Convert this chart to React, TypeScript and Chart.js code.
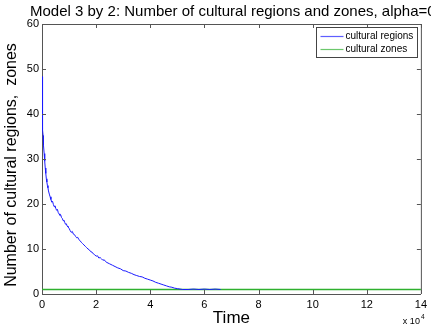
import React, { useEffect, useRef } from "react";
import { Chart, registerables } from "chart.js";

Chart.register(...registerables);

const TITLE = "Model 3 by 2: Number of cultural regions and zones, alpha=0";
const X_LABEL = "Time";
const Y_LABEL = "Number of cultural regions,  zones";
const X_EXPONENT_BASE = "x 10";
const X_EXPONENT = "4";
const SERIES_NAMES = ["cultural regions", "cultural zones"];
const SERIES_COLORS = ["#1a1aff", "#2eb02e"];

const X_MIN = 0;
const X_MAX = 140000;
const X_STEP = 20000;
const Y_MIN = 0;
const Y_MAX = 60;
const Y_STEP = 10;

const REGION_TIMES = [
  0, 100, 200, 300, 400, 500, 600, 800, 1000, 1200, 1400, 1600, 1800, 2000, 2200, 2400,
  2700, 3000, 3300, 3600, 3900, 4200, 4500, 4800, 5100, 5400, 5700, 6000, 6300, 6600,
  6900, 7200, 7500, 7800, 8100, 8400, 8700, 9000, 9300, 9600, 10000, 10400, 10800, 11200,
  11600, 12000, 12400, 12800, 13200, 13600, 14000, 14500, 15000, 15500, 16000, 16500,
  17000, 17500, 18000, 18500, 19000, 19500, 20000, 20500, 21000, 21500, 22000, 22500,
  23000, 23500, 24000, 25000, 26000, 27000, 28000, 29000, 30000, 31000, 32000, 33000,
  34000, 35000, 36000, 37000, 38000, 39000, 40000, 41000, 42000, 43000, 44000, 45000,
  46000, 47000, 48000, 49000, 50000, 51000, 52000, 54000, 56000, 58000, 60000, 62000,
  64000, 66000,
];
const REGION_COUNTS = [
  48.3, 44, 40, 36.5, 35.2, 34, 33, 31.2, 29.5, 28, 26.8, 25.6, 24.9, 24.1, 23.6, 22.9,
  22.2, 21.6, 21.0, 20.4, 20.6, 19.9, 19.4, 19.6, 19.0, 18.6, 18.8, 18.1, 17.8, 17.5,
  17.6, 17.0, 16.8, 16.3, 16.4, 15.9, 15.5, 15.6, 15.1, 14.9, 14.6, 14.1, 13.7, 13.9,
  13.3, 13.2, 12.8, 12.5, 12.6, 12.1, 11.9, 11.5, 11.2, 10.9, 10.6, 10.3,
  10.0, 9.8, 9.4, 9.3, 8.9, 8.7, 8.4, 8.5, 8.0, 8.1, 7.8, 7.5,
  7.6, 7.2, 7.0, 6.7, 6.4, 6.1, 5.8, 5.6, 5.2, 5.1, 4.8, 4.6,
  4.3, 4.1, 3.9, 3.8, 3.5, 3.3, 3.1, 2.9, 2.6, 2.4, 2.2, 2.0,
  1.8, 1.6, 1.5, 1.3, 1.2, 1.1, 1.0, 1.0, 1.1, 1.0, 1.1, 1.0,
  1.1, 1.0,
];
const ZONE_TIMES = [0, 140000];
const ZONE_COUNTS = [1, 1];

const FONT = "Arial, 'Liberation Sans', Helvetica, sans-serif";
const AXIS_COLOR = "#555555";

const decorPlugin = {
  id: "matlabDecor",
  afterDraw(chart: any) {
    const { ctx, chartArea } = chart;
    const { left, right, top, bottom } = chartArea;
    const xs = chart.scales.x;
    const ys = chart.scales.y;
    ctx.save();
    ctx.strokeStyle = AXIS_COLOR;
    ctx.lineWidth = 1;
    ctx.beginPath();
    ctx.moveTo(left, top + 0.5);
    ctx.lineTo(right + 0.5, top + 0.5);
    ctx.lineTo(right + 0.5, bottom);
    ctx.stroke();
    const tl = 4;
    ctx.beginPath();
    xs.ticks.forEach((t: any) => {
      const px = Math.round(xs.getPixelForValue(t.value)) + 0.5;
      ctx.moveTo(px, bottom);
      ctx.lineTo(px, bottom - tl);
      ctx.moveTo(px, top);
      ctx.lineTo(px, top + tl);
    });
    ys.ticks.forEach((t: any) => {
      const py = Math.round(ys.getPixelForValue(t.value)) + 0.5;
      ctx.moveTo(left, py);
      ctx.lineTo(left + tl, py);
      ctx.moveTo(right, py);
      ctx.lineTo(right - tl, py);
    });
    ctx.stroke();

    ctx.fillStyle = "#000";
    ctx.font = `15px ${FONT}`;
    ctx.textAlign = "left";
    ctx.textBaseline = "alphabetic";
    ctx.fillText(TITLE, left - 12, 16);

    ctx.save();
    ctx.translate(12, (top + bottom) / 2 + 6);
    ctx.rotate(-Math.PI / 2);
    ctx.font = `16px ${FONT}`;
    ctx.textAlign = "center";
    ctx.textBaseline = "middle";
    ctx.fillText(Y_LABEL, 0, 0);
    ctx.restore();

    ctx.font = `9px ${FONT}`;
    ctx.textAlign = "left";
    ctx.textBaseline = "alphabetic";
    const bw = ctx.measureText(X_EXPONENT_BASE).width;
    const ex = right - 1 - bw;
    ctx.fillText(X_EXPONENT_BASE, ex, 324);
    ctx.font = `6.5px ${FONT}`;
    ctx.fillText(X_EXPONENT, ex + bw + 1, 319);

    ctx.font = `10px ${FONT}`;
    const datasets = chart.data.datasets;
    let maxW = 0;
    datasets.forEach((d: any) => {
      maxW = Math.max(maxW, ctx.measureText(d.label).width);
    });
    const lineLen = 23;
    const boxW = Math.round(4 + lineLen + 2 + maxW + 4);
    const boxH = 30;
    const bx = Math.round(right - 4 - boxW) + 0.5;
    const by = top + 3 + 0.5;
    ctx.fillStyle = "#fff";
    ctx.fillRect(bx, by, boxW, boxH);
    ctx.strokeStyle = "#444";
    ctx.strokeRect(bx, by, boxW, boxH);
    datasets.forEach((d: any, i: number) => {
      const ry = Math.round(by + 8.5 + i * 12.6) + 0.5;
      ctx.save();
      ctx.globalAlpha = 0.7;
      ctx.strokeStyle = d.borderColor;
      ctx.lineWidth = 1.2;
      ctx.beginPath();
      ctx.moveTo(bx + 4, ry);
      ctx.lineTo(bx + 4 + lineLen, ry);
      ctx.stroke();
      ctx.restore();
      ctx.fillStyle = "#000";
      ctx.textBaseline = "middle";
      ctx.fillText(d.label, bx + 4 + lineLen + 2, ry);
    });
    ctx.restore();
  },
};

export default function App() {
  const ref = useRef<HTMLCanvasElement | null>(null);
  useEffect(() => {
    if (!ref.current) return;
    const regionData = REGION_TIMES.map((t, i) => ({ x: t, y: REGION_COUNTS[i] }));
    const zoneData = ZONE_TIMES.map((t, i) => ({ x: t, y: ZONE_COUNTS[i] }));
    const chart = new Chart(ref.current, {
      type: "line",
      data: {
        datasets: [
          {
            label: SERIES_NAMES[0],
            data: regionData,
            borderColor: SERIES_COLORS[0],
            borderWidth: 1,
            pointRadius: 0,
            fill: false,
            tension: 0,
          },
          {
            label: SERIES_NAMES[1],
            data: zoneData,
            borderColor: SERIES_COLORS[1],
            borderWidth: 1.4,
            pointRadius: 0,
            fill: false,
            tension: 0,
          },
        ],
      },
      options: {
        animation: false,
        responsive: false,
        maintainAspectRatio: false,
        layout: { padding: { left: 0, right: 8, top: 24, bottom: 0 } },
        plugins: {
          legend: { display: false },
          title: { display: false },
          tooltip: { enabled: false },
        },
        scales: {
          x: {
            type: "linear",
            min: X_MIN,
            max: X_MAX,
            grid: { display: false, drawTicks: false },
            border: { display: true, color: AXIS_COLOR, width: 1 },
            ticks: {
              stepSize: X_STEP,
              autoSkip: false,
              maxRotation: 0,
              padding: 4,
              color: "#000",
              font: { family: FONT, size: 11 },
              callback: (v: any) => String(Number(v) / 10000),
            },
            title: {
              display: true,
              text: X_LABEL,
              color: "#000",
              font: { family: FONT, size: 17 },
              padding: { top: 0, bottom: 0 },
            },
            afterFit: (s: any) => {
              s.height = 35;
            },
          },
          y: {
            type: "linear",
            min: Y_MIN,
            max: Y_MAX,
            grid: { display: false, drawTicks: false },
            border: { display: true, color: AXIS_COLOR, width: 1 },
            ticks: {
              stepSize: Y_STEP,
              padding: 3,
              color: "#000",
              font: { family: FONT, size: 11 },
            },
            afterFit: (s: any) => {
              s.width = 42;
            },
          },
        },
      },
      plugins: [decorPlugin],
    });
    return () => chart.destroy();
  }, []);
  return (
    <div style={{ position: "fixed", left: 0, top: 0, width: 431, height: 329, background: "#fff" }}>
      <canvas ref={ref} width={431} height={329} style={{ display: "block" }} />
    </div>
  );
}
